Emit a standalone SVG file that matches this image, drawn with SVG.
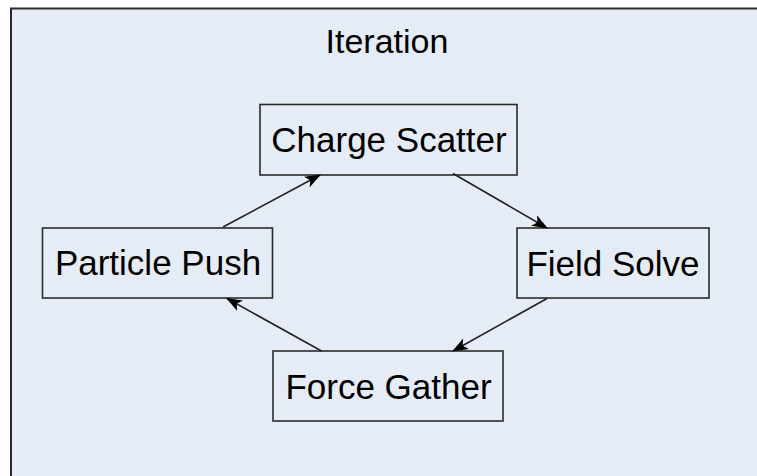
<svg xmlns="http://www.w3.org/2000/svg" width="757" height="476" viewBox="0 0 757 476">
<style>
.frame{fill:#e5ecf6;stroke:#2b2b2b;stroke-width:2}
.box{fill:#e5ecf6;stroke:#2b2b2b;stroke-width:1.6}
.lbl{font-family:"Liberation Sans",Arial,sans-serif;font-size:35px;fill:#000;text-anchor:middle}
.title{font-family:"Liberation Sans",Arial,sans-serif;font-size:34px;fill:#000;text-anchor:middle}
.edge{fill:none;stroke:#222;stroke-width:1.6;marker-end:url(#arr)}
</style>
<defs>
<marker id="arr" viewBox="0 0 16 12" refX="15" refY="6" markerWidth="16" markerHeight="12" markerUnits="userSpaceOnUse" orient="auto">
<path d="M0,0 L16,6 L0,12 L4,6 Z" fill="#000"/>
</marker>
</defs>
<rect width="757" height="476" fill="#ffffff"/>
<rect class="frame" x="11" y="8.5" width="760" height="480"/>
<text class="title" x="387" y="53">Iteration</text>
<g id="charge-scatter">
<rect class="box" x="260" y="104.5" width="257" height="70.5"/>
<text class="lbl" x="389" y="152">Charge Scatter</text>
</g>
<g id="field-solve">
<rect class="box" x="517" y="228" width="192" height="70"/>
<text class="lbl" x="613" y="275.5">Field Solve</text>
</g>
<g id="force-gather">
<rect class="box" x="273" y="351" width="230" height="70"/>
<text class="lbl" x="388.5" y="398.5">Force Gather</text>
</g>
<g id="particle-push">
<rect class="box" x="42.5" y="228" width="230" height="70"/>
<text class="lbl" x="158" y="275">Particle Push</text>
</g>
<g id="connectors">
<path class="edge" d="M223,227 L320,175"/>
<path class="edge" d="M453,173.5 L547,228"/>
<path class="edge" d="M547,298.5 L453,351"/>
<path class="edge" d="M321.5,351 L227,298.5"/>
</g>
</svg>
